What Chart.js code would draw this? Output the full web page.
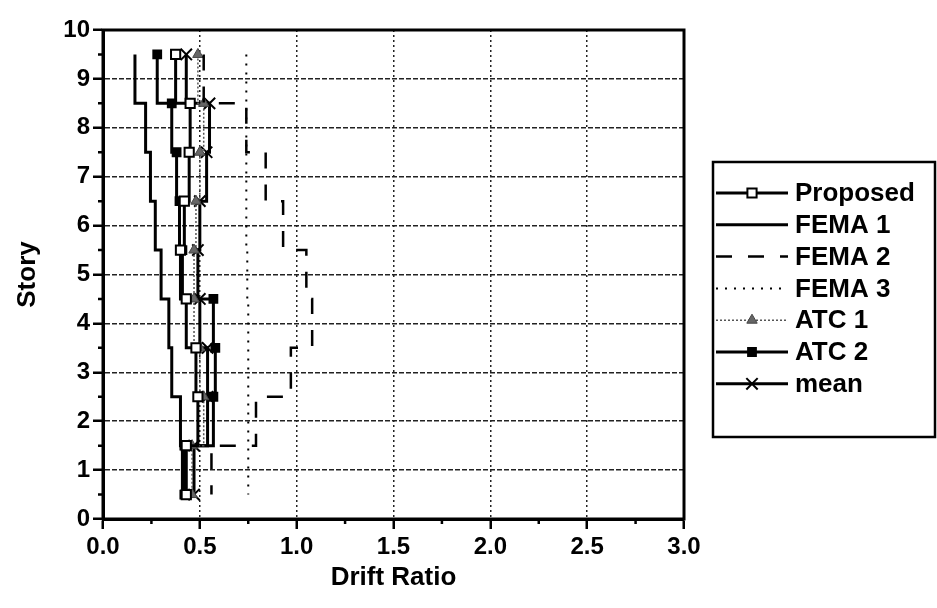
<!DOCTYPE html>
<html>
<head>
<meta charset="utf-8">
<script src="https://cdn.jsdelivr.net/npm/chart.js@4/dist/chart.umd.min.js"></script>
<style>
  html, body { margin: 0; padding: 0; background: #fff; }
  #wrap { width: 937px; height: 608px; }
</style>
</head>
<body>
<div id="wrap"><canvas id="drift" width="937" height="608"></canvas></div>
<script>
'use strict';

// story levels at which each step changes (top floor first)
var levels = [9.5, 8.5, 7.5, 6.5, 5.5, 4.5, 3.5, 2.5, 1.5, 0.5];

// drift ratio per story, story 9 down to story 1
var proposed = [0.375, 0.45, 0.445, 0.42, 0.40, 0.43, 0.48, 0.49, 0.43];
var fema1    = [0.165, 0.22, 0.245, 0.27, 0.30, 0.34, 0.355, 0.40, 0.41];
var fema2    = [0.52, 0.74, 0.84, 0.93, 1.05, 1.08, 0.97, 0.79, 0.56];
var fema3    = [0.74, 0.74, 0.74, 0.74, 0.745, 0.75, 0.75, 0.75, 0.75];
var atc1     = [0.49, 0.52, 0.50, 0.48, 0.47, 0.47, 0.50, 0.52, 0.46];
var atc2     = [0.28, 0.355, 0.38, 0.395, 0.41, 0.57, 0.58, 0.57, 0.42];
var meanVals = [0.43, 0.55, 0.535, 0.50, 0.49, 0.50, 0.54, 0.54, 0.47];

var xTicks = [0, 0.5, 1, 1.5, 2, 2.5, 3];
var yTicks = [0, 1, 2, 3, 4, 5, 6, 7, 8, 9, 10];

var FONT = '"Liberation Sans", Arial, Helvetica, sans-serif';

function steps(vals) {
    var pts = [];
    for (var i = 0; i < vals.length; i++) {
        pts.push({ x: vals[i], y: levels[i] });
    }
    // close the bottom story
    pts.push({ x: vals[vals.length - 1], y: levels[levels.length - 1] });
    return pts;
}

function series(label, vals, opts) {
    var ds = {
        label: label,
        data: steps(vals),
        stepped: 'after',
        fill: false,
        borderColor: '#000',
        borderWidth: 3,
        borderDash: [],
        pointRadius: 0,
        pointStyle: 'circle',
        pointBackgroundColor: '#fff',
        pointBorderColor: '#000',
        pointBorderWidth: 2
    };
    for (var k in opts) ds[k] = opts[k];
    return ds;
}

var datasets = [
    series('Proposed', proposed, { pointRadius: 6.5, pointStyle: 'rect', pointBackgroundColor: '#fff' }),
    series('FEMA 1', fema1, {}),
    series('FEMA 2', fema2, { borderDash: [16, 16], borderWidth: 2.5 }),
    series('FEMA 3', fema3, { borderDash: [2, 7], borderWidth: 2 }),
    series('ATC 1', atc1, { borderColor: '#555', borderWidth: 1.5, borderDash: [2, 2],
        pointRadius: 6, pointStyle: 'triangle', pointBackgroundColor: '#666', pointBorderColor: '#444', pointBorderWidth: 1 }),
    series('ATC 2', atc2, { borderWidth: 3, pointRadius: 5.5, pointStyle: 'rect', pointBackgroundColor: '#000' }),
    series('mean', meanVals, { pointRadius: 8, pointStyle: 'crossRot', pointBorderWidth: 2 })
];

// top/right frame, minor ticks and the boxed legend
var framePlugin = {
    id: 'frame',
    afterDraw: function(chart) {
        var ctx = chart.ctx;
        var a = chart.chartArea;
        var xs = chart.scales.x, ys = chart.scales.y;
        ctx.save();
        ctx.strokeStyle = '#000';
        ctx.lineWidth = 3;
        ctx.setLineDash([]);
        ctx.strokeRect(a.left, a.top, a.right - a.left, a.bottom - a.top);

        ctx.lineWidth = 2.5;
        ctx.beginPath();
        for (var i = 0; i < xTicks.length - 1; i++) {
            var px = xs.getPixelForValue((xTicks[i] + xTicks[i + 1]) / 2);
            ctx.moveTo(px, a.bottom);
            ctx.lineTo(px, a.bottom + 5);
        }
        for (var j = 0; j < yTicks.length - 1; j++) {
            var py = ys.getPixelForValue((yTicks[j] + yTicks[j + 1]) / 2);
            ctx.moveTo(a.left, py);
            ctx.lineTo(a.left - 5, py);
        }
        ctx.stroke();

        // legend
        var bx = 713, by = 162, bw = 222, bh = 275;
        ctx.lineWidth = 2.5;
        ctx.strokeRect(bx, by, bw, bh);
        ctx.font = 'bold 26px ' + FONT;
        ctx.textBaseline = 'middle';
        ctx.fillStyle = '#000';
        chart.data.datasets.forEach(function(ds, n) {
            var y = 193 + n * 31.8;
            ctx.save();
            ctx.strokeStyle = ds.borderColor;
            ctx.lineWidth = ds.borderWidth;
            ctx.setLineDash(ds.borderDash || []);
            ctx.beginPath();
            ctx.moveTo(716, y);
            ctx.lineTo(788, y);
            ctx.stroke();
            ctx.restore();
            if (ds.pointRadius > 0) {
                ctx.save();
                ctx.setLineDash([]);
                ctx.fillStyle = ds.pointBackgroundColor;
                ctx.strokeStyle = ds.pointBorderColor;
                ctx.lineWidth = ds.pointBorderWidth;
                Chart.helpers.drawPoint(ctx, {
                    pointStyle: ds.pointStyle,
                    radius: ds.pointRadius,
                    borderWidth: ds.pointBorderWidth,
                    rotation: 0
                }, 752, y);
                ctx.restore();
            }
            ctx.fillStyle = '#000';
            ctx.fillText(ds.label, 795, y + 1);
        });
        ctx.restore();
    }
};

function gridColor(c) {
    var v = c.tick ? c.tick.value : null;
    var s = c.scale;
    if (v === s.min || v === s.max) return 'rgba(0,0,0,0)';
    return '#222';
}

new Chart(document.getElementById('drift').getContext('2d'), {
    type: 'line',
    data: { datasets: datasets },
    plugins: [framePlugin],
    options: {
        responsive: false,
        animation: false,
        devicePixelRatio: 1,
        layout: { padding: { top: 30, right: 253, left: 0, bottom: 0 } },
        plugins: {
            legend: { display: false },
            tooltip: { enabled: false }
        },
        scales: {
            x: {
                type: 'linear',
                min: 0,
                max: 3,
                afterFit: function(scale) { scale.height = 89; },
                afterBuildTicks: function(scale) {
                    scale.ticks = xTicks.map(function(v) { return { value: v }; });
                },
                ticks: {
                    color: '#000',
                    font: { family: FONT, size: 24, weight: 'bold' },
                    padding: 4,
                    maxRotation: 0,
                    callback: function(v) { return Number(v).toFixed(1); }
                },
                grid: {
                    color: gridColor,
                    lineWidth: 1.5,
                    tickColor: '#000',
                    tickLength: 10,
                    tickWidth: 2.5
                },
                border: { display: true, color: '#000', width: 3, dash: [2, 3] },
                title: {
                    display: true,
                    text: 'Drift Ratio',
                    color: '#000',
                    font: { family: FONT, size: 26, weight: 'bold' },
                    padding: { top: 0, bottom: 15 }
                }
            },
            y: {
                type: 'linear',
                min: 0,
                max: 10,
                afterFit: function(scale) { scale.width = 103; },
                afterBuildTicks: function(scale) {
                    scale.ticks = yTicks.map(function(v) { return { value: v }; });
                },
                ticks: {
                    color: '#000',
                    font: { family: FONT, size: 24, weight: 'bold' },
                    padding: 3
                },
                grid: {
                    color: gridColor,
                    lineWidth: 1.5,
                    tickColor: '#000',
                    tickLength: 10,
                    tickWidth: 2.5
                },
                border: { display: true, color: '#000', width: 3, dash: [5, 2] },
                title: {
                    display: true,
                    text: 'Story',
                    color: '#000',
                    font: { family: FONT, size: 26, weight: 'bold' },
                    padding: { top: 12, bottom: 0 }
                }
            }
        }
    }
});
</script>
</body>
</html>
